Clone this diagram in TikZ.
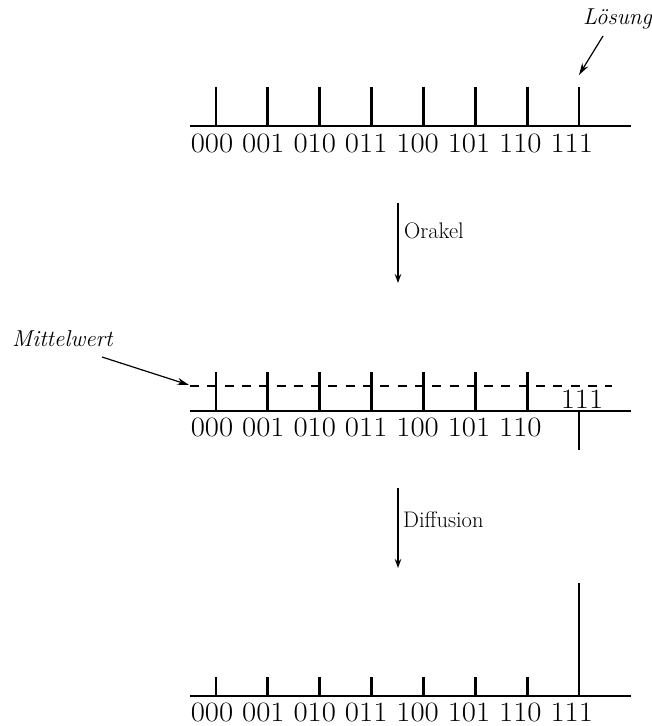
\documentclass[tikz,border=0pt]{standalone}
\usetikzlibrary{arrows.meta}
\newcommand{\digitbox}[1]{\scalebox{1.1}[1]{#1}}
\begin{document}
\begin{tikzpicture}[x=1pt,y=-1pt,
  tickline/.style={line width=2.8pt},
  axisline/.style={line width=1.9pt},
  meanline/.style={line width=1.6pt, dash pattern=on 9pt off 8.3pt},
  flow/.style={line width=1.4pt, -{Stealth[length=9pt,width=6.5pt]}},
  pointer/.style={line width=1.2pt, -{Stealth[length=12pt,width=7pt]}},
  digits/.style={font=\fontsize{28}{30}\selectfont, inner sep=0pt, anchor=base},
  note/.style={font=\fontsize{23}{26}\selectfont\itshape, inner sep=0pt, anchor=base west},
  steplabel/.style={font=\fontsize{22.5}{26}\selectfont, inner sep=0pt, anchor=base west}]
\useasboundingbox (0,0) rectangle (652,726);

% ---------- panel 1 ----------
\coordinate (a1s) at (190,126);
\coordinate (a1e) at (631,126);
\draw[axisline] (a1s) -- (a1e);
\foreach \i/\t in {0/000,1/001,2/010,3/011,4/100,5/101,6/110,7/111}{
  \coordinate (p1b\i) at ({216+51.86*\i},126);
  \coordinate (p1t\i) at ({216+51.86*\i},87);
  \draw[tickline] (p1b\i) -- (p1t\i);
  \node[digits] (p1l\i) at ({212+51.4*\i},152) {\digitbox{\t}};
}
\node[note] (loesung) at (583,24) {Lösung};
\coordinate (loesungStart) at (603,36);
\coordinate (loesungTip) at (579,75);
\draw[pointer] (loesungStart) -- (loesungTip);

% ---------- arrow Orakel ----------
\coordinate (o1) at (398,203);
\coordinate (o2) at (398,283);
\draw[flow] (o1) -- (o2);
\node[steplabel] (orakel) at (404,238) {Orakel};

% ---------- panel 2 ----------
\coordinate (m1) at (190,386);
\coordinate (m2) at (612,386);
\draw[meanline] (m1) -- (m2);
\coordinate (a2s) at (190,411);
\coordinate (a2e) at (631,411);
\draw[axisline] (a2s) -- (a2e);
\foreach \i/\t in {0/000,1/001,2/010,3/011,4/100,5/101,6/110}{
  \coordinate (p2b\i) at ({216+51.86*\i},411);
  \coordinate (p2t\i) at ({216+51.86*\i},372);
  \draw[tickline] (p2b\i) -- (p2t\i);
  \node[digits] (p2l\i) at ({212+51.4*\i},436) {\digitbox{\t}};
}
\coordinate (p2b7) at (579,411);
\coordinate (p2t7) at (579,450);
\draw[tickline] (p2b7) -- (p2t7);
\node[digits] (p2l7) at (582,408) {\digitbox{111}};
\node[note] (mittelwert) at (12,346) {Mittelwert};
\coordinate (mwStart) at (102,357);
\coordinate (mwTip) at (189,385);
\draw[pointer] (mwStart) -- (mwTip);

% ---------- arrow Diffusion ----------
\coordinate (d1) at (398,488);
\coordinate (d2) at (398,568);
\draw[flow] (d1) -- (d2);
\node[steplabel] (diffusion) at (403,527) {Diffusion};

% ---------- panel 3 ----------
\coordinate (a3s) at (190,696);
\coordinate (a3e) at (631,696);
\draw[axisline] (a3s) -- (a3e);
\foreach \i/\t in {0/000,1/001,2/010,3/011,4/100,5/101,6/110}{
  \coordinate (p3b\i) at ({216+51.86*\i},696);
  \coordinate (p3t\i) at ({216+51.86*\i},677);
  \draw[tickline] (p3b\i) -- (p3t\i);
  \node[digits] (p3l\i) at ({212+51.4*\i},721) {\digitbox{\t}};
}
\coordinate (p3b7) at (579,696);
\coordinate (p3t7) at (579,583);
\draw[tickline] (p3b7) -- (p3t7);
\node[digits] (p3l7) at ({212+51.4*7},721) {\digitbox{111}};
\end{tikzpicture}
\end{document}
